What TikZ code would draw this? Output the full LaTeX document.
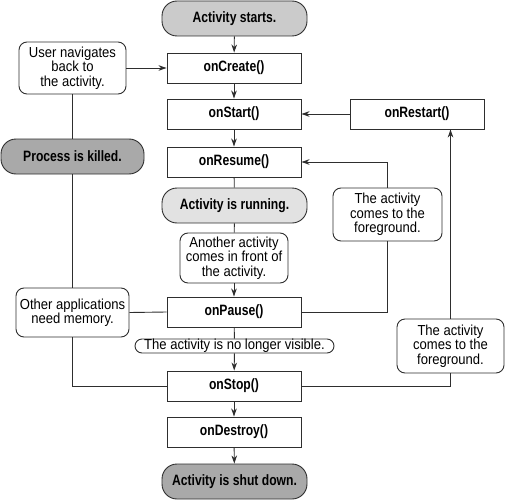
\documentclass[tikz,border=0pt]{standalone}
\usepackage{fontspec}
\setmainfont{Liberation Sans}[FakeStretch=0.9]
\newfontfamily\bnf{Liberation Sans}[FakeStretch=0.81]
\usetikzlibrary{arrows.meta}
\definecolor{ink}{HTML}{2E2E2E}
\definecolor{gmid}{HTML}{CBCBCB}
\definecolor{glight}{HTML}{E2E2E2}
\definecolor{gdark}{HTML}{A9A9A9}
\tikzset{
  base/.style={draw=ink, line width=0.9pt, inner sep=0pt, align=center, text=black},
  method/.style={base, minimum width=134pt, minimum height=30pt, font=\bnf\bfseries\fontsize{15}{16}\selectfont},
  pill/.style={base, minimum width=145pt, minimum height=35pt, rounded corners=15pt, font=\bnf\bfseries\fontsize{15}{16}\selectfont},
  note/.style={base, rounded corners=8pt, font=\fontsize{14.5}{14.5}\selectfont},
  conn/.style={draw=ink, line width=0.9pt},
  arr/.style={conn, -{Stealth[length=8pt,width=5.5pt,inset=2.5pt]}},
}
\begin{document}
\begin{tikzpicture}[x=1pt,y=-1pt]
\useasboundingbox (0,0) rectangle (505,500);
% main column
\node[pill, fill=gmid] (start) at (234.5,18.5) {Activity starts.};
\node[method] (create) at (234,68) {onCreate()};
\node[method] (onstart) at (234,114) {onStart()};
\node[method] (resume) at (234,162) {onResume()};
\node[pill, fill=glight] (running) at (234.5,205.5) {Activity is running.};
\node[note, minimum width=108pt, minimum height=50pt] (another) at (234,258) {Another activity\\comes in front of\\the activity.};
\node[method] (pause) at (234,312) {onPause()};
\node[note, rounded corners=7pt, minimum width=199pt, minimum height=14pt, text height=10.5pt, text depth=3pt] (novis) at (234.5,346) {The activity is no longer visible.};
\node[method] (stop) at (234,386) {onStop()};
\node[method] (destroy) at (234,432) {onDestroy()};
\node[pill, fill=gdark] (shut) at (234.5,481.5) {Activity is shut down.};
% left column
\node[note, minimum width=107pt, minimum height=52pt] (user) at (72.5,68) {User navigates\\back to\\the activity.};
\node[pill, fill=gdark, minimum width=143pt] (killed) at (72.5,156.5) {Process is killed.};
\node[note, minimum width=113pt, minimum height=49pt] (other) at (72.5,312.5) {Other applications\\need memory.};
% right column
\node[method] (restart) at (417,114) {onRestart()};
\node[note, minimum width=109pt, minimum height=53pt] (fg1) at (387.5,214.5) {The activity\\comes to the\\foreground.};
\node[note, minimum width=107pt, minimum height=54pt] (fg2) at (450.5,346) {The activity\\comes to the\\foreground.};
% connectors in main column
\draw[arr] (start) -- (create);
\draw[arr] (create) -- (onstart);
\draw[arr] (onstart) -- (resume);
\draw[conn] (resume) -- (running);
\draw[conn] (running) -- (another);
\draw[arr] (another) -- (pause);
\draw[conn] (pause) -- (novis);
\draw[arr] (novis) -- (stop);
\draw[arr] (stop) -- (destroy);
\draw[arr] (destroy) -- (shut);
% left connectors
\draw[arr] (user) -- (create);
\draw[conn] (user) -- (killed);
\draw[conn] (killed) -- (other);
\draw[conn] (other.east) -- (pause.west);
\draw[conn] (other.south) |- (stop.west);
% right connectors
\draw[arr] (restart) -- (onstart);
\draw[conn] (pause.east) -| (fg1.south);
\draw[arr] (fg1.north) |- (resume.east);
\draw[conn] (stop.east) -| (fg2.south);
\draw[arr] (fg2.north) -- (fg2.north |- restart.south);
\end{tikzpicture}
\end{document}
